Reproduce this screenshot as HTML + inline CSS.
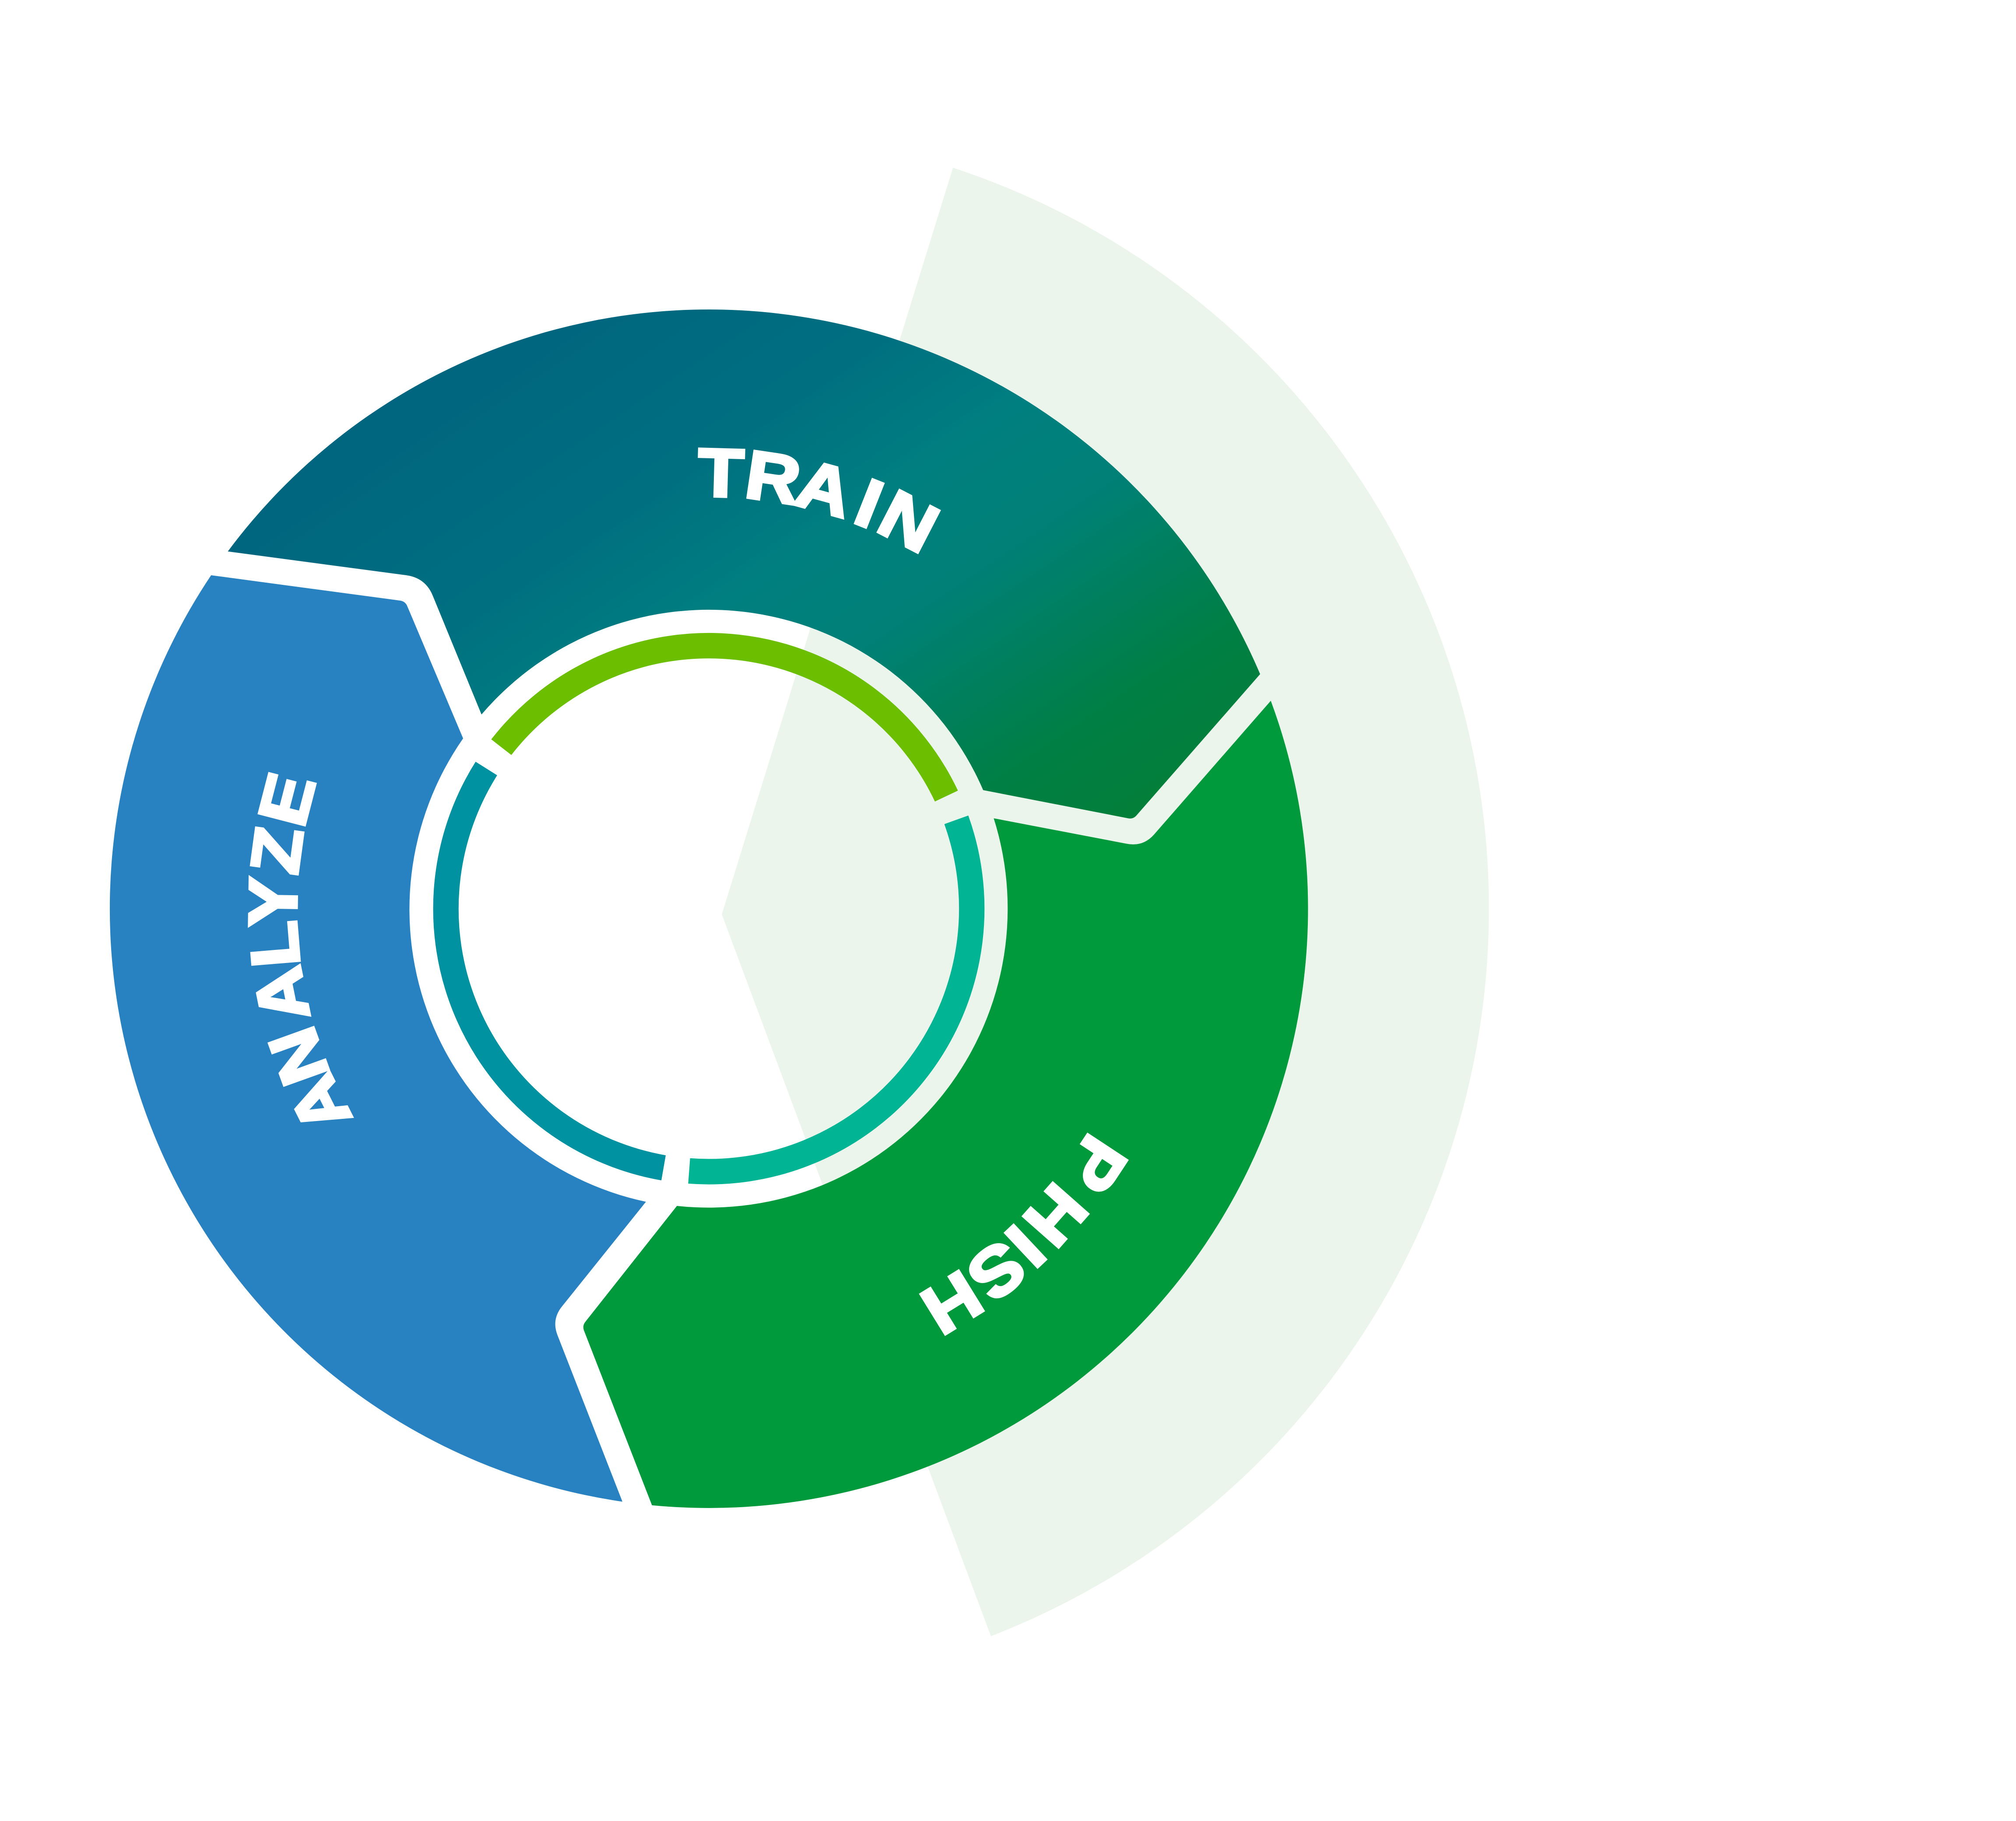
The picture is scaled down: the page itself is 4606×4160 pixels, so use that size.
<!DOCTYPE html>
<html>
<head>
<meta charset="utf-8">
<style>
  html,body{margin:0;padding:0;background:#fff;}
  svg{display:block;}
  .lbl{font-family:"Liberation Sans", Arial, sans-serif;font-weight:700;font-size:53px;fill:#fff;stroke:#fff;stroke-width:2.2;stroke-linejoin:miter;}
</style>
</head>
<body>
<svg xmlns="http://www.w3.org/2000/svg" width="4606" height="4160" viewBox="0 0 1568 1416" preserveAspectRatio="none">
  <defs>
    <linearGradient id="tg" gradientUnits="userSpaceOnUse" x1="450" y1="250" x2="760" y2="710">
      <stop offset="0" stop-color="#00667F"/>
      <stop offset="0.26" stop-color="#007080"/>
      <stop offset="0.44" stop-color="#007F80"/>
      <stop offset="0.6" stop-color="#008076"/>
      <stop offset="0.81" stop-color="#007F4F"/>
      <stop offset="0.86" stop-color="#007F45"/>
      <stop offset="1" stop-color="#037F3A"/>
    </linearGradient>
  </defs>

  <rect x="0" y="0" width="1568" height="1416" fill="#ffffff"/>

  <!-- light green background sector -->
  <path d="M561.4,711 L741.2,130.4 A606.7,606.7 0 0 1 770.7,1272.3 Z" fill="#EBF5EC"/>

  <!-- TRAIN segment -->
  <path d="M177.2,428.8 A466,466 0 0 1 980.1,524.2 L883.9,634.1 Q881.3,637.1 877.4,636.3 L764.7,614.4 A232.5,232.5 0 0 0 374.5,555.6 L336.6,463.2 Q330.9,449.3 316,447.3 Z" fill="url(#tg)"/>

  <!-- ANALYZE segment -->
  <path d="M164.2,447.3 L311.1,467 Q315.1,467.5 316.7,471.2 L360.2,574.2 A232.5,232.5 0 0 0 502.4,934.5 L437,1016 Q428.9,1026.1 433.6,1038.2 L484.1,1167.7 A466,466 0 0 1 164.2,447.3 Z" fill="#2882C2"/>

  <!-- PHISH segment -->
  <path d="M988.4,544.9 A466,466 0 0 1 507.1,1170.5 L454.2,1034.6 Q452.8,1030.9 455.3,1027.8 L526.5,937.7 A232.5,232.5 0 0 0 772.9,636.3 L876.3,656.1 Q889.1,658.6 897.7,648.8 Z" fill="#009A3D"/>

  <!-- inner ring arcs -->
  <path d="M389.9,581 A204.5,204.5 0 0 1 736.1,619" fill="none" stroke="#6BBE00" stroke-width="19.8"/>
  <path d="M743.8,637.5 A204.5,204.5 0 0 1 536,910.5" fill="none" stroke="#00B494" stroke-width="19.8"/>
  <path d="M516.1,908.1 A204.5,204.5 0 0 1 378.3,597.6" fill="none" stroke="#0092A0" stroke-width="19.8"/>

  <!-- TRAIN label -->
  <g class="lbl" text-anchor="middle">
    <text transform="translate(551.3 706.6) rotate(1.6) translate(0 -340) scale(1.1 1)" x="0" y="19.3">T</text>
    <text transform="translate(551.3 706.6) rotate(8.5) translate(0 -340) scale(1.1 1)" x="0" y="19.3">R</text>
    <text transform="translate(551.3 706.6) rotate(15.4) translate(0 -340) scale(1.1 1)" x="0" y="19.3">A</text>
    <text transform="translate(551.3 706.6) rotate(21.6) translate(0 -340) scale(1.1 1)" x="0" y="19.3">I</text>
    <text transform="translate(551.3 706.6) rotate(27.3) translate(0 -340) scale(1.1 1)" x="0" y="19.3">N</text>
  </g>

  <!-- ANALYZE label -->
  <g class="lbl" text-anchor="middle">
    <text transform="translate(551.3 706.6) rotate(243.3) translate(0 -340) scale(1.1 1)" x="0" y="19.3">A</text>
    <text transform="translate(551.3 706.6) rotate(250.2) translate(0 -340) scale(1.1 1)" x="0" y="19.3">N</text>
    <text transform="translate(551.3 706.6) rotate(258.6) translate(0 -340) scale(1.1 1)" x="0" y="19.3">A</text>
    <text transform="translate(551.3 706.6) rotate(265.3) translate(0 -340) scale(1.1 1)" x="0" y="19.3">L</text>
    <text transform="translate(551.3 706.6) rotate(270.9) translate(0 -340) scale(1.1 1)" x="0" y="19.3">Y</text>
    <text transform="translate(551.3 706.6) rotate(277.7) translate(0 -340) scale(1.1 1)" x="0" y="19.3">Z</text>
    <text transform="translate(551.3 706.6) rotate(284.5) translate(0 -340) scale(1.1 1)" x="0" y="19.3">E</text>
  </g>

  <!-- PHISH label -->
  <g class="lbl" text-anchor="middle">
    <text transform="translate(551.3 706.6) rotate(123.4) translate(0 -362) scale(1.1 1)" x="0" y="19.3">P</text>
    <text transform="translate(551.3 706.6) rotate(131.45) translate(0 -361) scale(1.1 1)" x="0" y="19.3">H</text>
    <text transform="translate(551.3 706.6) rotate(136.8) translate(0 -361) scale(1.1 1)" x="0" y="19.3">I</text>
    <text transform="translate(551.3 706.6) rotate(141.5) translate(0 -361) scale(1.1 1)" x="0" y="19.3">S</text>
    <text transform="translate(551.3 706.6) rotate(148.3) translate(0 -361) scale(1.1 1)" x="0" y="19.3">H</text>
  </g>
</svg>
</body>
</html>
